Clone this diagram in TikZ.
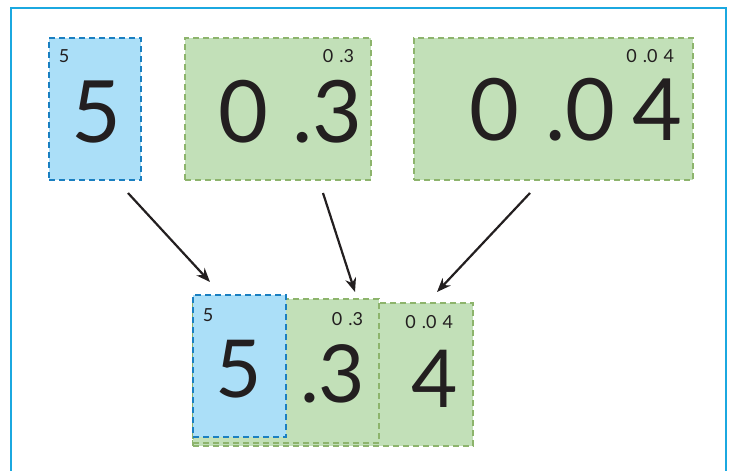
\documentclass[tikz,border=0pt]{standalone}
\usepackage{fontspec}
\setmainfont{Lato}
\usetikzlibrary{arrows.meta}
\definecolor{framecol}{HTML}{1BA8E0}
\definecolor{bluefill}{HTML}{ABDFF8}
\definecolor{blueline}{HTML}{1A7FC1}
\definecolor{greenfill}{HTML}{C2E0B8}
\definecolor{greenline}{HTML}{8DB46C}
\definecolor{ink}{HTML}{231F20}

\begin{document}
\begin{tikzpicture}[x=1pt,y=-1pt]
\tikzstyle{every node}=[inner sep=0pt,outer sep=0pt,text=ink];
\tikzstyle{onesbox}=[draw=blueline,fill=bluefill,line width=1.8pt,dash pattern=on 6pt off 4pt,anchor=north west];
\tikzstyle{decbox}=[draw=greenline,fill=greenfill,line width=1.8pt,dash pattern=on 6pt off 4pt,anchor=north west];
\tikzstyle{bigdigit}=[font=\fontsize{86}{86}\selectfont];
\tikzstyle{middigit}=[font=\fontsize{80}{80}\selectfont];
\tikzstyle{tag}=[font=\fontsize{18}{18}\selectfont];
\tikzstyle{pointer}=[line width=2.2pt,ink,-{Stealth[length=14pt,width=11pt]}];
\useasboundingbox (0,0) rectangle (732,471);
% frame
\draw[framecol,line width=2.8pt] (11,471) -- (11,8) -- (726,8) -- (726,471);
% top row
\node[onesbox,minimum width=92pt,minimum height=142pt] (ones) at (49,38) {};
\node[decbox,minimum width=186pt,minimum height=142pt] (tenths) at (185,38) {};
\node[decbox,minimum width=279pt,minimum height=142pt] (hundredths) at (414,38) {};
\node[tag,anchor=base] (onestag) at (64,63) {5};
\node[tag,anchor=base east] (tenthstag) at (354,63) {0\,\,.3};
\node[tag,anchor=base east] (hundredthstag) at (674,63) {0\,\,.0\,\,4};
\node[bigdigit,anchor=base] (onesnum) at (96,142) {5};
\node[bigdigit,anchor=base] (tenthszero) at (243,142) {0};
\node[bigdigit,anchor=base west] (tenthsnum) at (292,142) {.3};
\node[bigdigit,anchor=base] (hundredthszero) at (494,140) {0};
\node[bigdigit,anchor=base west] (hundredthsmid) at (545,140) {.0};
\node[bigdigit,anchor=base] (hundredthsnum) at (657,140) {4};
% bottom row
\node[decbox,minimum width=280pt,minimum height=143pt] (sumhund) at (193,303) {};
\node[decbox,minimum width=186pt,minimum height=144pt] (sumtenth) at (193,299) {};
\node[onesbox,minimum width=93pt,minimum height=142pt] (sumones) at (193,295) {};
\node[tag,anchor=base] (sumonestag) at (208,321) {5};
\node[tag,anchor=base east] (sumtenthtag) at (363,325) {0\,\,.3};
\node[tag,anchor=base east] (sumhundtag) at (453,328) {0\,\,.0\,\,4};
\node[middigit,anchor=base] (sumonesnum) at (239,397) {5};
\node[middigit,anchor=base west] (sumtenthnum) at (300,402) {.3};
\node[middigit,anchor=base] (sumhundnum) at (435,407) {4};
% arrows
\coordinate (a1) at (128,193);
\coordinate (b1) at (210,282);
\coordinate (a2) at (323,193);
\coordinate (b2) at (355,292);
\coordinate (a3) at (530,193);
\coordinate (b3) at (437,292);
\draw[pointer] (a1) -- (b1);
\draw[pointer] (a2) -- (b2);
\draw[pointer] (a3) -- (b3);
\end{tikzpicture}
\end{document}
